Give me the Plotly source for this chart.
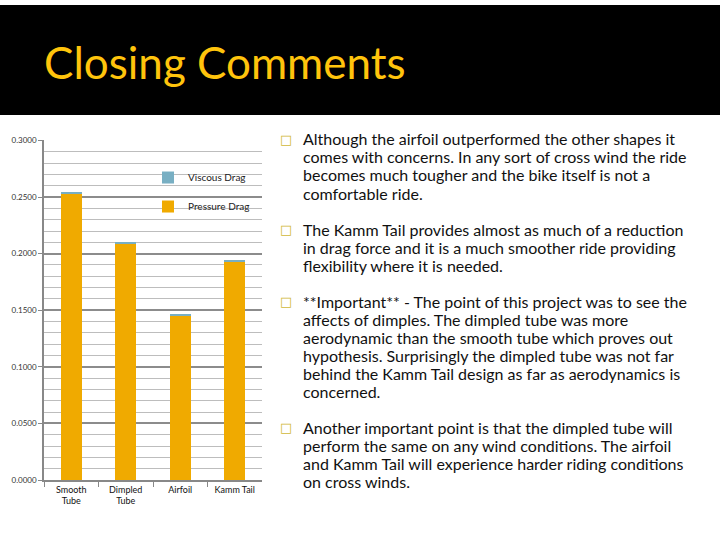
import plotly.graph_objects as go

categories = ["Smooth<br>Tube", "Dimpled<br>Tube", "Airfoil", "Kamm Tail"]
pressure_drag = [0.2530, 0.2085, 0.1450, 0.1925]
viscous_drag = [0.0010, 0.0012, 0.0008, 0.0010]
series_names = ["Pressure Drag", "Viscous Drag"]

title_text = "Closing Comments"
bullets = [
    ["Although the airfoil outperformed the other shapes it",
     "comes with concerns. In any sort of cross wind the ride",
     "becomes much tougher and the bike itself is not a",
     "comfortable ride."],
    ["The Kamm Tail provides almost as much of a reduction",
     "in drag force and it is a much smoother ride providing",
     "flexibility where it is needed."],
    ["**Important** - The point of this project was to see the",
     "affects of dimples. The dimpled tube was more",
     "aerodynamic than the smooth tube which proves out",
     "hypothesis. Surprisingly the dimpled tube was not far",
     "behind the Kamm Tail design as far as aerodynamics is",
     "concerned."],
    ["Another important point is that the dimpled tube will",
     "perform the same on any wind conditions. The airfoil",
     "and Kamm Tail will experience harder riding conditions",
     "on cross winds."],
]
first_line_px = [136.5, 228.3, 301.7, 430.0]
LINE_STEP = 18.35

W, H = 720, 540
def px_y(p):
    return 1 - p / H
def px_x(p):
    return p / W

PRESSURE = "#F0AA00"
VISCOUS = "#78AFC3"

fig = go.Figure()
fig.add_trace(go.Bar(x=categories, y=pressure_drag, name=series_names[0], legendgroup="p",
                     legendrank=2, marker=dict(color=PRESSURE, line=dict(width=0))))
fig.add_trace(go.Bar(x=categories, y=viscous_drag, name=series_names[1], legendgroup="v",
                     legendrank=1, marker=dict(color=VISCOUS, line=dict(width=0))))

annotations = [
    dict(text=title_text, x=px_x(42), y=px_y(58), xref="paper", yref="paper",
         xanchor="left", yanchor="middle", showarrow=False,
         font=dict(family="Lato", size=44, color="#FFC40C")),
]
for lines, y0 in zip(bullets, first_line_px):
    annotations.append(dict(text="□", x=px_x(278), y=px_y(y0 + 0.5), xref="paper", yref="paper",
                            xanchor="left", yanchor="middle", showarrow=False,
                            font=dict(family="DejaVu Sans", size=13, color="#D0B838")))
    for i, line in enumerate(lines):
        annotations.append(dict(text=line, x=px_x(301), y=px_y(y0 + i * LINE_STEP),
                                xref="paper", yref="paper", xanchor="left", yanchor="middle",
                                align="left", showarrow=False,
                                font=dict(family="Lato", size=16, color="#111111")))

fig.update_layout(
    width=W, height=H,
    margin=dict(l=0, r=0, t=0, b=0),
    paper_bgcolor="white", plot_bgcolor="white",
    barmode="stack", bargap=0.61,
    showlegend=True,
    legend=dict(x=px_x(148), y=px_y(161), xanchor="left", yanchor="top",
                traceorder="grouped", tracegroupgap=10,
                bgcolor="rgba(0,0,0,0)", font=dict(family="Lato", size=10, color="#222222"),
                itemwidth=30),
    shapes=[dict(type="rect", xref="paper", yref="paper", x0=0, x1=1,
                 y0=px_y(112), y1=1, fillcolor="black", line=dict(width=0), layer="below")],
    annotations=annotations,
    xaxis=dict(domain=[px_x(44), px_x(262)], showline=True, linecolor="#888888", linewidth=1.5,
               ticks="outside", tickson="boundaries", ticklen=5, tickcolor="#888888",
               tickfont=dict(family="Lato", size=9, color="#111111"), showgrid=False),
    yaxis=dict(domain=[px_y(484), px_y(138)], range=[0, 0.3], dtick=0.05, tickformat=".4f",
               showline=True, linecolor="#888888", linewidth=1.5, ticks="outside", ticklen=4,
               tickcolor="#888888", gridcolor="#8C8C8C", gridwidth=1.5,
               minor=dict(dtick=0.01, showgrid=True, gridcolor="#BDBDBD", gridwidth=1),
               tickfont=dict(family="Lato", size=8, color="#333333"), zeroline=False),
)

post = ("var d=document.getElementById('{plot_id}');"
        "d.style.position='fixed';d.style.top='0px';d.style.left='0px';"
        "document.body.style.margin='0';document.documentElement.style.overflow='hidden';"
        "document.body.style.overflow='hidden';")
fig.write_html("out.html", config={"displayModeBar": False}, post_script=post)
